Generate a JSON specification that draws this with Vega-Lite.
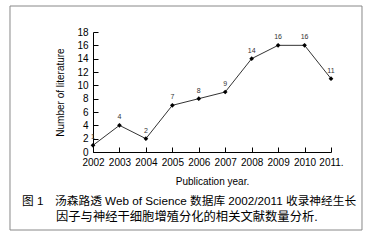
{
  "$schema": "https://vega.github.io/schema/vega-lite/v6.json",
  "autosize": {"type": "none"},
  "width": 238,
  "height": 120,
  "padding": {"left": 93, "top": 32, "right": 44, "bottom": 90},
  "background": "white",
  "config": {
    "view": {"stroke": null},
    "font": "Liberation Sans",
    "axis": {
      "domainColor": "#000",
      "domainWidth": 1,
      "tickColor": "#000",
      "tickWidth": 1,
      "grid": false,
      "labelFont": "Liberation Sans",
      "labelFontSize": 10,
      "labelColor": "#000",
      "titleFont": "Liberation Sans",
      "titleFontSize": 10,
      "titleFontWeight": "normal",
      "titleColor": "#000",
      "tickSize": -5,
      "labelPadding": 10,
      "labelFlush": false,
      "labelOverlap": false
    }
  },
  "data": {
    "values": [
      {"year": 2002, "count": 1},
      {"year": 2003, "count": 4},
      {"year": 2004, "count": 2},
      {"year": 2005, "count": 7},
      {"year": 2006, "count": 8},
      {"year": 2007, "count": 9},
      {"year": 2008, "count": 14},
      {"year": 2009, "count": 16},
      {"year": 2010, "count": 16},
      {"year": 2011, "count": 11}
    ]
  },
  "layer": [
    {
      "mark": {"type": "line", "color": "#333", "strokeWidth": 1},
      "encoding": {
        "x": {
          "field": "year", "type": "quantitative",
          "scale": {"domain": [2002, 2011], "nice": false, "zero": false},
          "axis": {"values": [2002, 2003, 2004, 2005, 2006, 2007, 2008, 2009, 2010, 2011], "labelExpr": "datum.value == 2011 ? '2011.' : datum.value", "title": "Publication year.", "titlePadding": 9}
        },
        "y": {
          "field": "count", "type": "quantitative",
          "scale": {"domain": [0, 18], "nice": false},
          "axis": {"values": [0, 2, 4, 6, 8, 10, 12, 14, 16, 18], "title": "Number of literature", "titlePadding": 11}
        }
      }
    },
    {
      "mark": {"type": "point", "shape": "diamond", "filled": true, "color": "#000", "size": 22, "opacity": 1},
      "encoding": {
        "x": {"field": "year", "type": "quantitative", "axis": {"values": [2002, 2003, 2004, 2005, 2006, 2007, 2008, 2009, 2010, 2011], "labelExpr": "datum.value == 2011 ? '2011.' : datum.value", "title": "Publication year.", "titlePadding": 9}},
        "y": {"field": "count", "type": "quantitative", "axis": {"values": [0, 2, 4, 6, 8, 10, 12, 14, 16, 18], "title": "Number of literature", "titlePadding": 11}}
      }
    },
    {
      "mark": {"type": "text", "fontSize": 7, "color": "#333", "dy": -8, "font": "Liberation Sans"},
      "encoding": {
        "x": {"field": "year", "type": "quantitative", "axis": {"values": [2002, 2003, 2004, 2005, 2006, 2007, 2008, 2009, 2010, 2011], "labelExpr": "datum.value == 2011 ? '2011.' : datum.value", "title": "Publication year.", "titlePadding": 9}},
        "y": {"field": "count", "type": "quantitative", "axis": {"values": [0, 2, 4, 6, 8, 10, 12, 14, 16, 18], "title": "Number of literature", "titlePadding": 11}},
        "text": {"field": "count", "type": "quantitative"}
      }
    },
    {
      "data": {"values": [{}]},
      "mark": {"type": "rect", "fill": null, "stroke": "#888", "strokeWidth": 1},
      "encoding": {
        "x": {"datum": 1998.861, "type": "quantitative", "axis": {"values": [2002, 2003, 2004, 2005, 2006, 2007, 2008, 2009, 2010, 2011], "labelExpr": "datum.value == 2011 ? '2011.' : datum.value", "title": "Publication year.", "titlePadding": 9}},
        "x2": {"datum": 2012.172},
        "y": {"datum": 21.9, "type": "quantitative", "axis": {"values": [0, 2, 4, 6, 8, 10, 12, 14, 16, 18], "title": "Number of literature", "titlePadding": 11}},
        "y2": {"datum": -11.7}
      }
    },
    {
      "data": {"values": [{}]},
      "mark": {"type": "text", "align": "left", "baseline": "middle", "fontSize": 11.7, "color": "#000", "font": "Liberation Sans, Noto Sans CJK SC", "text": "图 1　汤森路透 Web of Science 数据库 2002/2011 收录神经生长"},
      "encoding": {
        "x": {"datum": 1999.315, "type": "quantitative", "axis": {"values": [2002, 2003, 2004, 2005, 2006, 2007, 2008, 2009, 2010, 2011], "labelExpr": "datum.value == 2011 ? '2011.' : datum.value", "title": "Publication year.", "titlePadding": 9}},
        "y": {"datum": -7.4, "type": "quantitative", "axis": {"values": [0, 2, 4, 6, 8, 10, 12, 14, 16, 18], "title": "Number of literature", "titlePadding": 11}}
      }
    },
    {
      "data": {"values": [{}]},
      "mark": {"type": "text", "align": "left", "baseline": "middle", "fontSize": 12.3, "color": "#000", "font": "Liberation Sans, Noto Sans CJK SC", "text": "因子与神经干细胞增殖分化的相关文献数量分析."},
      "encoding": {
        "x": {"datum": 2000.601, "type": "quantitative", "axis": {"values": [2002, 2003, 2004, 2005, 2006, 2007, 2008, 2009, 2010, 2011], "labelExpr": "datum.value == 2011 ? '2011.' : datum.value", "title": "Publication year.", "titlePadding": 9}},
        "y": {"datum": -9.7, "type": "quantitative", "axis": {"values": [0, 2, 4, 6, 8, 10, 12, 14, 16, 18], "title": "Number of literature", "titlePadding": 11}}
      }
    }
  ]
}
